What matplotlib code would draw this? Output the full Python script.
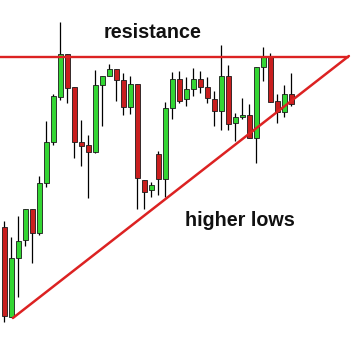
import matplotlib
matplotlib.use("Agg")
import matplotlib.pyplot as plt
import numpy as np

# OHLC price data (arbitrary price units)
opens  = [116, 26, 85, 103, 134, 110, 160, 201, 246, 289, 256, 201, 198, 191, 258, 267, 274, 263, 236, 259, 163,
          153, 189, 164, 235, 264, 244, 254, 264, 256, 244, 232, 267, 220, 226, 228, 205, 276, 286, 242, 231, 249]
highs  = [122, 106, 127, 134, 134, 167, 222, 249, 321, 289, 256, 223, 208, 273, 267, 279, 274, 270, 267, 259, 163,
          161, 192, 241, 271, 272, 266, 275, 272, 266, 252, 298, 278, 230, 245, 239, 276, 296, 290, 249, 258, 270]
lows   = [21, 26, 46, 97, 80, 108, 156, 198, 243, 240, 185, 177, 145, 190, 217, 267, 242, 228, 229, 134, 134,
          146, 148, 146, 224, 240, 237, 247, 250, 240, 217, 213, 213, 202, 224, 205, 180, 262, 241, 220, 226, 237]
closes = [27, 85, 102, 134, 110, 160, 201, 247, 289, 255, 201, 197, 191, 258, 267, 274, 263, 236, 259, 165, 151,
          158, 164, 235, 264, 242, 254, 264, 256, 245, 232, 267, 219, 226, 228, 205, 276, 286, 241, 231, 249, 239]

resistance_level = 286
resistance_end = 49.2
support_start = (1.2, 25)
support_end = (49.2, 287)

labels = ["resistance", "higher lows"]
label_pos = [(21.1, 305), (33.6, 117)]

W, H = 363, 343
fig = plt.figure(figsize=(W / 100, H / 100), dpi=100)
ax = fig.add_axes([0, 0, 1, 1])
ax.set_xlim(-4.5 / 7, (W - 4.5) / 7)
ax.set_ylim(0, H)
ax.axis("off")

green = "#33d633"
red = "#c91e1e"
line_red = "#dc2222"
body_w = 0.70

x = np.arange(len(opens))
for i, o, h, l, c in zip(x, opens, highs, lows, closes):
    col = green if c >= o else red
    ax.plot([i, i], [l, h], color="black", lw=0.9, zorder=2, solid_capstyle="butt")
    bottom = min(o, c)
    height = max(abs(c - o), 1.5)
    ax.bar(i, height, bottom=bottom, width=body_w, color=col, edgecolor="#1a1a1a",
           linewidth=0.6, zorder=3)

ax.plot([-1, resistance_end], [resistance_level, resistance_level], color=line_red, lw=1.7, zorder=4,
        solid_capstyle="butt")
ax.plot([support_start[0], support_end[0]], [support_start[1], support_end[1]], color=line_red, lw=1.8,
        zorder=4, solid_capstyle="round")

for t, (px, py) in zip(labels, label_pos):
    ax.text(px, py, t, ha="center", va="baseline", fontsize=14.2, fontweight="bold",
            family="Liberation Sans", color="#111111", zorder=5)

fig.savefig("out.png", dpi=100)
